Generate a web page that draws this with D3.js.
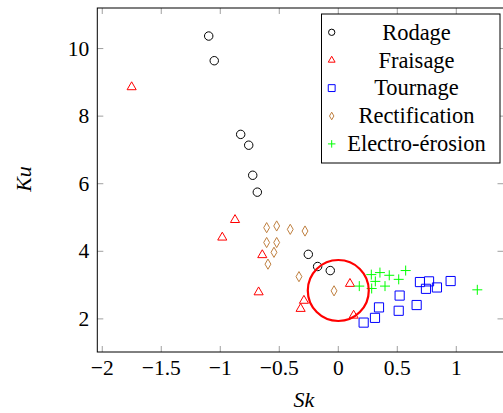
<!DOCTYPE html>
<html>
<head>
<meta charset="utf-8">
<script src="https://cdn.jsdelivr.net/npm/d3@7"></script>
<style>
  body { margin: 0; background: #fff; }
  svg { display: block; }
  text { font-family: "Liberation Serif", "Times New Roman", serif; fill: #000; }
</style>
</head>
<body>
<div id="chart"></div>
<script>
// data (Sk, Ku)
const rodageSk = [-1.098, -1.051, -0.827, -0.759, -0.725, -0.686, -0.254, -0.175, -0.068];
const rodageKu = [10.37, 9.64, 7.46, 7.14, 6.25, 5.75, 3.91, 3.55, 3.43];

const fraisageSk = [-1.751, -0.875, -0.983, -0.644, -0.675, 0.099, -0.291, -0.319, 0.13];
const fraisageKu = [8.86, 4.93, 4.41, 3.89, 2.79, 3.04, 2.54, 2.30, 2.10];

const tournageSk = [0.215, 0.311, 0.345, 0.512, 0.520, 0.664, 0.692, 0.769, 0.743, 0.836, 0.952];
const tournageKu = [1.89, 2.03, 2.34, 2.24, 2.69, 2.41, 3.09, 3.11, 2.89, 2.93, 3.12];

const rectifSk = [-0.607, -0.522, -0.407, -0.282, -0.607, -0.522, -0.545, -0.596, -0.333, -0.036];
const rectifKu = [4.70, 4.75, 4.65, 4.60, 4.26, 4.26, 3.97, 3.62, 3.25, 2.83];

const electroSk = [0.178, 0.280, 0.353, 0.314, 0.283, 0.432, 0.396, 0.512, 0.571, 1.178];
const electroKu = [2.97, 3.31, 3.37, 3.11, 2.90, 3.29, 2.97, 3.17, 3.43, 2.86];

const seriesNames = ["Rodage", "Fraisage", "Tournage", "Rectification", "Electro-érosion"];
const xTicks = [-2, -1.5, -1, -0.5, 0, 0.5, 1];
const yTicks = [2, 4, 6, 8, 10];

// highlighted region (red circle)
const markSk = [0];
const markKu = [2.84];

const padL = 97.3, padR = 503.5, padT = 8, padB = 352;
const W = 503, H = 413;

const x = d3.scaleLinear().domain([-2.042, 1.4]).range([padL, padR]);
const y = d3.scaleLinear().domain([1.02, 11.2]).range([padB, padT]);

const svg = d3.select("#chart").append("svg")
  .attr("width", W).attr("height", H);

const fmt = d => (d < 0 ? "\u2212" + Math.abs(d) : "" + d);

// ticks (inside, on all four sides)
const tickG = svg.append("g").attr("stroke", "#888").attr("stroke-width", 0.8);
xTicks.forEach(t => {
  tickG.append("line").attr("x1", x(t)).attr("x2", x(t)).attr("y1", padB).attr("y2", padB - 6);
  tickG.append("line").attr("x1", x(t)).attr("x2", x(t)).attr("y1", padT).attr("y2", padT + 6);
});
yTicks.forEach(t => {
  tickG.append("line").attr("x1", padL).attr("x2", padL + 6).attr("y1", y(t)).attr("y2", y(t));
  tickG.append("line").attr("x1", padR).attr("x2", padR - 6).attr("y1", y(t)).attr("y2", y(t));
});

svg.append("rect")
  .attr("x", padL).attr("y", padT)
  .attr("width", padR - padL).attr("height", padB - padT)
  .attr("fill", "none").attr("stroke", "#000").attr("stroke-width", 1);

svg.append("g").selectAll("text").data(xTicks).enter().append("text")
  .attr("x", d => x(d)).attr("y", padB + 23)
  .attr("text-anchor", "middle").style("font-size", "21.5px")
  .text(fmt);

svg.append("g").selectAll("text").data(yTicks).enter().append("text")
  .attr("x", padL - 8).attr("y", d => y(d) + 7)
  .attr("text-anchor", "end").style("font-size", "21.5px")
  .text(fmt);

svg.append("text")
  .attr("x", 304).attr("y", 407)
  .attr("text-anchor", "middle").style("font-size", "22px").style("font-style", "italic")
  .text("Sk");

svg.append("text")
  .attr("transform", "translate(31,179) rotate(-90)")
  .attr("text-anchor", "middle").style("font-size", "22px").style("font-style", "italic")
  .text("Ku");

// marker shapes
const shapes = [
  { color: "#000000", path: s => d3.symbol(d3.symbolCircle, 56 * s * s)() },
  { color: "#ff0000", path: s => d3.symbol(d3.symbolTriangle, 36 * s * s)() },
  { color: "#0000ff", path: s => d3.symbol(d3.symbolSquare, 84 * s * s)() },
  { color: "#bf8040", path: s => d3.symbol(d3.symbolDiamond, 30 * s * s)() },
  { color: "#00ff00", path: s => `M${-5 * s},0H${5 * s}M0,${-5 * s}V${5 * s}` }
];

const allSk = [rodageSk, fraisageSk, tournageSk, rectifSk, electroSk];
const allKu = [rodageKu, fraisageKu, tournageKu, rectifKu, electroKu];

const plot = svg.append("g");
allSk.forEach((sk, k) => {
  const pts = sk.map((v, i) => [v, allKu[k][i]]);
  plot.append("g").selectAll("path").data(pts).enter().append("path")
    .attr("transform", d => `translate(${x(d[0])},${y(d[1])})`)
    .attr("d", shapes[k].path(1))
    .attr("fill", "none")
    .attr("stroke", shapes[k].color)
    .attr("stroke-width", 1);
});

// red circle annotation
svg.append("g").selectAll("circle").data(markSk).enter().append("circle")
  .attr("cx", d => x(d)).attr("cy", (d, i) => y(markKu[i]))
  .attr("r", 30.5)
  .attr("fill", "none").attr("stroke", "#ff0000").attr("stroke-width", 2.2);

// legend
const lg = svg.append("g");
lg.append("rect")
  .attr("x", 321.5).attr("y", 14).attr("width", 178.5).attr("height", 149)
  .attr("fill", "#fff").attr("stroke", "#000").attr("stroke-width", 1);
seriesNames.forEach((name, k) => {
  const cy = 32.3 + k * 27.9;
  lg.append("path")
    .attr("transform", `translate(331.7,${cy})`)
    .attr("d", shapes[k].path(0.75))
    .attr("fill", "none").attr("stroke", shapes[k].color).attr("stroke-width", 1);
  lg.append("text")
    .attr("x", 416.5).attr("y", cy + 7.3)
    .attr("text-anchor", "middle").style("font-size", "22.5px")
    .text(name);
});
</script>
</body>
</html>
